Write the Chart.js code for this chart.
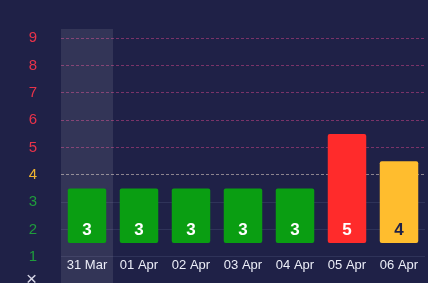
<!DOCTYPE html>
<html>
<head>
<meta charset="utf-8">
<script src="https://cdn.jsdelivr.net/npm/chart.js@4"></script>
<style>
    html, body { margin: 0; padding: 0; background: #1f2147; }
    #wrap { width: 428px; height: 283px; }
</style>
</head>
<body>
<div id="wrap"><canvas id="level-chart"></canvas></div>
<script>
const days = ['31 Mar', '01 Apr', '02 Apr', '03 Apr', '04 Apr', '05 Apr', '06 Apr'];
const levels = [3, 3, 3, 3, 3, 5, 4];
const levelTicks = [0, 1, 2, 3, 4, 5, 6, 7, 8, 9];
const highlightDay = 0;

const green = '#0a9e12';
const yellow = '#ffbd2e';
const red = '#ff2b2b';

// tick labels sit half a level above the scale value (bar for 3 tops out between 3 and 4)
const shift = 0.5;

function levelColor(v) {
    if (v >= 5) return red;
    if (v === 4) return yellow;
    return green;
}

function tickColor(v) {
    if (v === 0) return '#d8d8e8';
    if (v >= 5) return '#e8334a';
    if (v === 4) return '#f0b530';
    return '#1f9c3c';
}

function gridColor(v) {
    if (v === 0) return 'rgba(0,0,0,0)';
    if (v >= 5) return 'rgba(214, 70, 140, 0.5)';
    if (v === 4) return 'rgba(230, 215, 200, 0.55)';
    return 'rgba(150, 160, 200, 0.14)';
}

const highlightPlugin = {
    id: 'highlight',
    beforeDatasetsDraw(chart) {
        const x = chart.scales.x;
        const ctx = chart.ctx;
        const half = (x.getPixelForValue(1) - x.getPixelForValue(0)) / 2;
        const cx = x.getPixelForValue(highlightDay);
        ctx.save();
        ctx.fillStyle = 'rgba(255, 255, 255, 0.09)';
        ctx.fillRect(cx - half, chart.chartArea.top, half * 2, chart.height - chart.chartArea.top);
        ctx.restore();
    }
};

const labelPlugin = {
    id: 'labels',
    afterDatasetsDraw(chart) {
        const ctx = chart.ctx;
        const x = chart.scales.x;
        const meta = chart.getDatasetMeta(0);
        ctx.save();
        ctx.textAlign = 'center';
        ctx.textBaseline = 'middle';
        ctx.font = 'bold 17px "Liberation Sans", Arial, sans-serif';
        meta.data.forEach((bar, i) => {
            ctx.fillStyle = levels[i] === 4 ? '#1f2147' : '#ffffff';
            ctx.fillText(String(levels[i]), bar.x, bar.base - 13);
        });
        ctx.font = '13px "Liberation Sans", Arial, sans-serif';
        ctx.fillStyle = '#eceef8';
        days.forEach((d, i) => {
            ctx.fillText(d, x.getPixelForValue(i), 265);
        });
        ctx.restore();
    }
};

const ctx = document.getElementById('level-chart').getContext('2d');
new Chart(ctx, {
    type: 'bar',
    data: {
        labels: days,
        datasets: [{
            data: levels,
            base: 1,
            backgroundColor: levels.map(levelColor),
            borderRadius: 2,
            borderSkipped: false,
            categoryPercentage: 1,
            barPercentage: 0.74,
        }]
    },
    options: {
        responsive: true,
        maintainAspectRatio: false,
        animation: false,
        layout: { padding: { top: 29, right: 3 } },
        plugins: {
            legend: { display: false },
            tooltip: { enabled: false },
        },
        scales: {
            x: {
                display: false,
            },
            y: {
                min: 0.04 - shift,
                max: 9.34 - shift,
                afterFit(scale) { scale.width = 61; },
                afterBuildTicks(scale) {
                    scale.ticks = levelTicks.map(v => ({ value: (v === 0 ? 0.17 : v) - shift }));
                },
                border: {
                    display: false,
                    dash: c => levelTicks[c.index] >= 4 ? [3, 2] : [],
                },
                grid: {
                    drawTicks: true,
                    tickLength: 36,
                    tickColor: 'rgba(0,0,0,0)',
                    lineWidth: 1,
                    color: c => gridColor(levelTicks[c.index]),
                },
                ticks: {
                    padding: -12,
                    font: c => ({
                        size: levelTicks[c.index] === 0 ? 19 : 15,
                        family: '"Liberation Sans", Arial, sans-serif',
                    }),
                    color: c => tickColor(levelTicks[c.index]),
                    callback: (value, i) => levelTicks[i] === 0 ? '×' : String(levelTicks[i]),
                }
            }
        }
    },
    plugins: [highlightPlugin, labelPlugin]
});
</script>
</body>
</html>
